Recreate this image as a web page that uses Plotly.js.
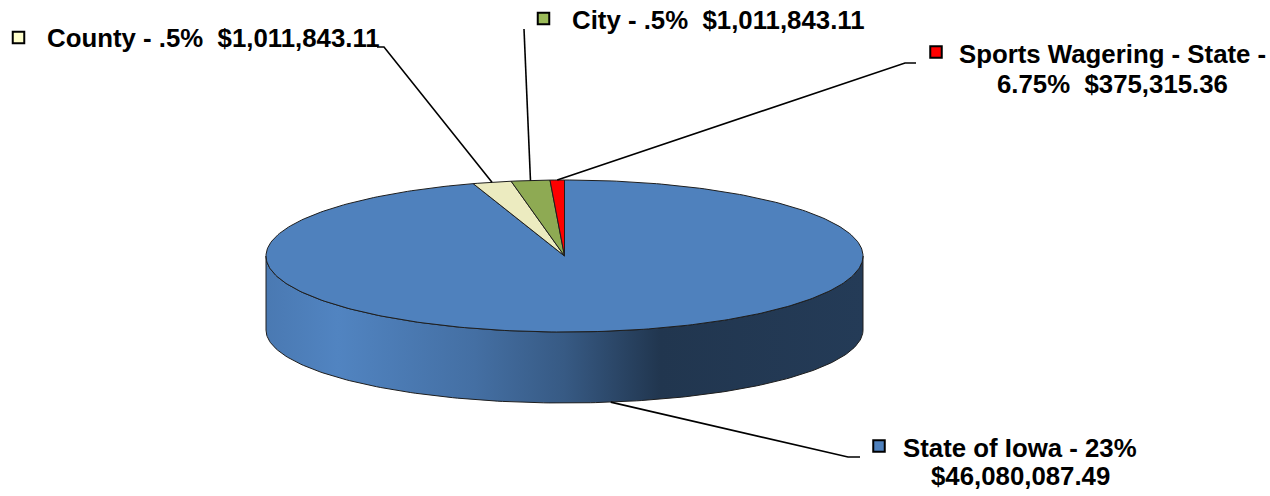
<!DOCTYPE html>
<html>
<head>
<meta charset="utf-8">
<script src="https://cdn.plot.ly/plotly-3.0.1.min.js"></script>
<style>html,body{margin:0;padding:0;background:#fff;}#chart{width:1270px;height:496px;}</style>
</head>
<body>
<div id="chart"></div>
<script>
// ---- data ----
const categories = ["State of Iowa", "County", "City", "Sports Wagering - State"];
const values = [46080087.49, 1011843.11, 1011843.11, 375315.36];
const rates = ["23%", ".5%", ".5%", "6.75%"];
const amounts = ["$46,080,087.49", "$1,011,843.11", "$1,011,843.11", "$375,315.36"];
const labelLines = [
  ["State of Iowa - 23%", "$46,080,087.49"],
  ["County - .5%\u00a0 $1,011,843.11"],
  ["City - .5%\u00a0 $1,011,843.11"],
  ["Sports Wagering - State -", "6.75%\u00a0 $375,315.36"]
];

// ---- styles / layout ----
const faceColors = ["#4f81bd", "#ecebc0", "#8eaa53", "#ff0000"];
const keyColors = ["#4f81bd", "#ffffcc", "#9bbb59", "#ff0000"];
const geo = {cx: 564.5, cy: 256, rx: 298.5, ry: 76, cyB: 330, ryB: 73};
// label placement: key marker position, text line anchors, leader-line label end
const labelPos = [
  {key: [879, 446], align: "center", x: 1020, ys: [448, 476], leader: [[860, 457], [848, 457]], bottom: true},
  {key: [18.5, 37.5], align: "left", x: 45, ys: [37.5], leader: [[377, 47], [384, 47]]},
  {key: [543.5, 18.5], align: "left", x: 570, ys: [19.5], leader: [[524, 29]]},
  {key: [936, 52], align: "center", x: 1112, ys: [53.5, 83.5], leader: [[916, 63], [905, 63]]}
];
const shade = [[0, 0.94], [0.12, 1.02], [0.35, 0.86], [0.5, 0.7], [0.66, 0.42], [1, 0.46]];
const edgeColor = "#1e1e1e";
const fontSpec = {family: "Liberation Sans, Arial, sans-serif", size: 25.8, color: "#000", weight: "bold"};

function hexRgb(h){ return [parseInt(h.substr(1,2),16), parseInt(h.substr(3,2),16), parseInt(h.substr(5,2),16)]; }
function scaled(h, f){ const c = hexRgb(h).map(v => Math.max(0, Math.min(255, Math.round(v*f)))); return "rgb(" + c.join(",") + ")"; }
function topPt(t){ return [geo.cx + geo.rx*Math.sin(t), geo.cy - geo.ry*Math.cos(t)]; }
function botPt(t){ return [geo.cx + geo.rx*Math.sin(t), geo.cyB - geo.ryB*Math.cos(t)]; }
function arc(fn, a0, a1){
  const n = Math.max(2, Math.ceil(Math.abs(a1 - a0) / (Math.PI/180)));
  const pts = [];
  for (let i = 0; i <= n; i++) pts.push(fn(a0 + (a1 - a0)*i/n));
  return pts;
}

const total = values.reduce((a, b) => a + b, 0);
const angles = [];
let acc = 0;
values.forEach(v => { const a0 = acc/total*2*Math.PI; acc += v; angles.push([a0, acc/total*2*Math.PI]); });

const sideTraces = [], faceTraces = [], leaderTraces = [];
angles.forEach(([a0, a1], i) => {
  const lo = Math.max(a0, Math.PI/2), hi = Math.min(a1, 3*Math.PI/2);
  if (hi > lo) {
    const pts = arc(topPt, lo, hi).concat(arc(botPt, hi, lo));
    pts.push(pts[0]);
    sideTraces.push({
      type: "scatter", mode: "lines", x: pts.map(p => p[0]), y: pts.map(p => p[1]),
      fill: "toself", fillcolor: faceColors[i],
      fillgradient: {type: "horizontal", colorscale: shade.map(s => [s[0], scaled(faceColors[i], s[1])])},
      line: {color: edgeColor, width: 1}, hoverinfo: "skip"
    });
  }
  const fp = [[geo.cx, geo.cy]].concat(arc(topPt, a0, a1));
  fp.push([geo.cx, geo.cy]);
  faceTraces.push({
    type: "scatter", mode: "lines", x: fp.map(p => p[0]), y: fp.map(p => p[1]),
    fill: "toself", fillcolor: faceColors[i], line: {color: edgeColor, width: 1},
    name: categories[i], hoverinfo: "skip"
  });
  const mid = (a0 + a1)/2;
  const lp = labelPos[i];
  const end = lp.bottom ? botPt(mid) : topPt(mid);
  const lpts = lp.leader.concat([end]);
  leaderTraces.push({
    type: "scatter", mode: "lines", x: lpts.map(p => p[0]), y: lpts.map(p => p[1]),
    line: {color: "#000", width: 1.6}, hoverinfo: "skip"
  });
});

const keyTrace = {
  type: "scatter", mode: "markers",
  x: labelPos.map(p => p.key[0]), y: labelPos.map(p => p.key[1]),
  marker: {symbol: "square", size: 11.5, color: keyColors, line: {color: "#000", width: 2}},
  hoverinfo: "skip"
};

const annotations = [];
labelLines.forEach((lines, i) => {
  const lp = labelPos[i];
  lines.forEach((t, j) => {
    annotations.push({
      x: lp.x, y: lp.ys[j], xref: "x", yref: "y", text: t, showarrow: false,
      xanchor: lp.align, yanchor: "middle", font: fontSpec
    });
  });
});

const data = sideTraces.concat(faceTraces, leaderTraces, [keyTrace]);
const layout = {
  width: 1270, height: 496, margin: {l: 0, r: 0, t: 0, b: 0},
  paper_bgcolor: "#fff", plot_bgcolor: "#fff", showlegend: false,
  xaxis: {range: [0, 1270], visible: false, fixedrange: true},
  yaxis: {range: [496, 0], visible: false, fixedrange: true},
  annotations: annotations
};
Plotly.newPlot("chart", data, layout, {staticPlot: true, displayModeBar: false});
</script>
</body>
</html>
